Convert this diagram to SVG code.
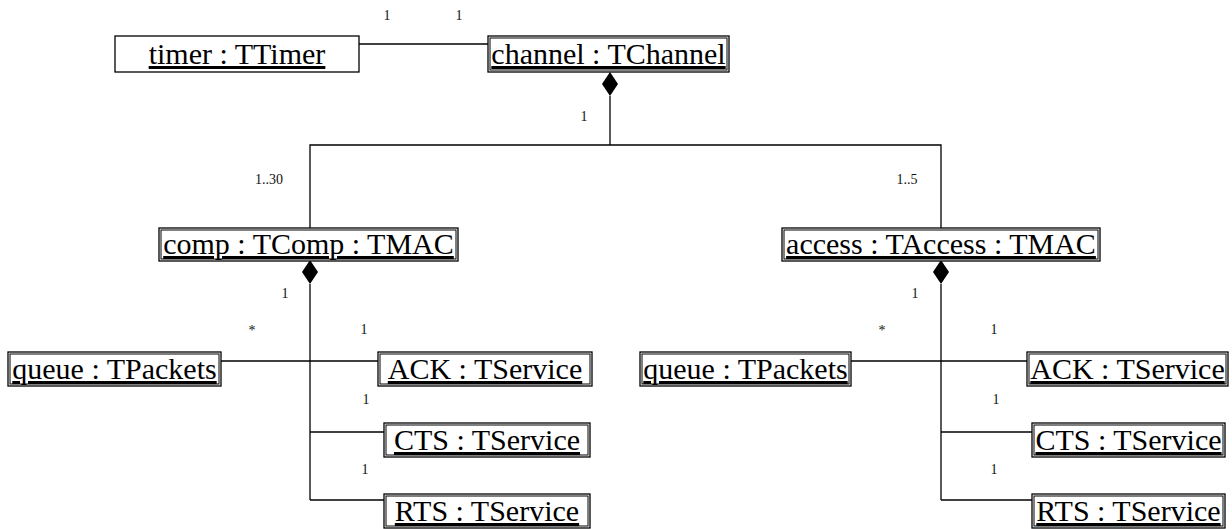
<svg xmlns="http://www.w3.org/2000/svg" width="1232" height="529" viewBox="0 0 1232 529">
  <style>
    .box { fill: #fff; stroke: #000; stroke-width: 1.3; }
    .inner { fill: none; stroke: #000; stroke-width: 1; }
    .name { font-family: "Liberation Serif", "Times New Roman", serif; font-size: 30px; text-anchor: middle; text-decoration: underline; fill: #000; }
    .mult { font-family: "Liberation Serif", "Times New Roman", serif; font-size: 14px; text-anchor: middle; fill: #111; }
    .link { fill: none; stroke: #000; stroke-width: 1.3; }
  </style>
  <defs>
    <path id="diamond" d="M0 0 L-8 12 L0 24 L8 12 Z" fill="#000"/>
  </defs>

  <!-- connectors and multiplicities -->
  <g id="connectors">
    <line class="link" x1="359" y1="44" x2="488" y2="44"/>
    <line class="link" x1="610" y1="96" x2="610" y2="145"/>
    <polyline class="link" points="310,228 310,145 941,145 941,228"/>
    <use href="#diamond" x="610" y="72"/>

    <line class="link" x1="310" y1="284" x2="310" y2="500"/>
    <use href="#diamond" x="310" y="260"/>
    <line class="link" x1="221" y1="361" x2="378" y2="361"/>
    <line class="link" x1="310" y1="432" x2="384" y2="432"/>
    <line class="link" x1="310" y1="500" x2="384" y2="500"/>

    <line class="link" x1="941" y1="284" x2="941" y2="500"/>
    <use href="#diamond" x="941" y="260"/>
    <line class="link" x1="851" y1="361" x2="1027" y2="361"/>
    <line class="link" x1="941" y1="432" x2="1032" y2="432"/>
    <line class="link" x1="941" y1="500" x2="1032" y2="500"/>

    <text class="mult" x="387" y="20">1</text>
    <text class="mult" x="459" y="20">1</text>
    <text class="mult" x="584" y="121">1</text>
    <text class="mult" x="269" y="184">1..30</text>
    <text class="mult" x="907" y="184">1..5</text>
    <text class="mult" x="285" y="298">1</text>
    <text class="mult" x="252" y="335">*</text>
    <text class="mult" x="364" y="334">1</text>
    <text class="mult" x="366" y="404">1</text>
    <text class="mult" x="365" y="474">1</text>
    <text class="mult" x="915" y="298">1</text>
    <text class="mult" x="882" y="335">*</text>
    <text class="mult" x="994" y="334">1</text>
    <text class="mult" x="996" y="404">1</text>
    <text class="mult" x="994" y="474">1</text>
  </g>

  <g id="timer">
    <rect class="box" x="115" y="36" width="244" height="36"/>
    <text class="name" x="237" y="64">timer : TTimer</text>
  </g>
  <g id="channel">
    <rect class="box" x="488" y="36" width="241" height="36"/>
    <rect class="inner" x="490" y="38" width="237" height="32"/>
    <text class="name" x="608.5" y="64">channel : TChannel</text>
  </g>
  <g id="comp">
    <rect class="box" x="159" y="228" width="299" height="33"/>
    <rect class="inner" x="161" y="230" width="295" height="29"/>
    <text class="name" x="308.5" y="254">comp : TComp : TMAC</text>
  </g>
  <g id="access">
    <rect class="box" x="782" y="228" width="318" height="33"/>
    <rect class="inner" x="784" y="230" width="314" height="29"/>
    <text class="name" x="941" y="254">access : TAccess : TMAC</text>
  </g>
  <g id="queue-comp">
    <rect class="box" x="8" y="352" width="213" height="34"/>
    <rect class="inner" x="10" y="354" width="209" height="30"/>
    <text class="name" x="114.5" y="379">queue : TPackets</text>
  </g>
  <g id="ack-comp">
    <rect class="box" x="378" y="352" width="214" height="34"/>
    <rect class="inner" x="380" y="354" width="210" height="30"/>
    <text class="name" x="485" y="379">ACK : TService</text>
  </g>
  <g id="cts-comp">
    <rect class="box" x="384" y="423" width="206" height="34"/>
    <rect class="inner" x="386" y="425" width="202" height="30"/>
    <text class="name" x="487" y="450">CTS : TService</text>
  </g>
  <g id="rts-comp">
    <rect class="box" x="384" y="494" width="206" height="34"/>
    <rect class="inner" x="386" y="496" width="202" height="30"/>
    <text class="name" x="487" y="521">RTS : TService</text>
  </g>
  <g id="queue-access">
    <rect class="box" x="640" y="352" width="211" height="34"/>
    <rect class="inner" x="642" y="354" width="207" height="30"/>
    <text class="name" x="745.5" y="379">queue : TPackets</text>
  </g>
  <g id="ack-access">
    <rect class="box" x="1027" y="352" width="201" height="34"/>
    <rect class="inner" x="1029" y="354" width="197" height="30"/>
    <text class="name" x="1127.5" y="379">ACK : TService</text>
  </g>
  <g id="cts-access">
    <rect class="box" x="1032" y="423" width="193" height="34"/>
    <rect class="inner" x="1034" y="425" width="189" height="30"/>
    <text class="name" x="1128.5" y="450">CTS : TService</text>
  </g>
  <g id="rts-access">
    <rect class="box" x="1032" y="494" width="193" height="34"/>
    <rect class="inner" x="1034" y="496" width="189" height="30"/>
    <text class="name" x="1128.5" y="521">RTS : TService</text>
  </g>
</svg>
